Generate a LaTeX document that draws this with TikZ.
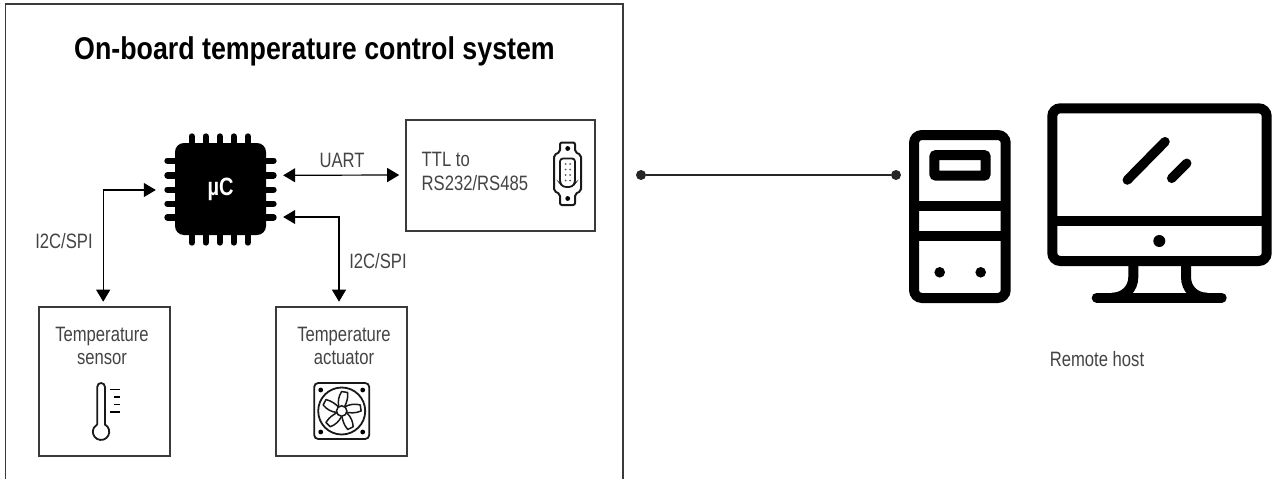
\documentclass[tikz,border=0pt]{standalone}
\usepackage{fontspec}
\usetikzlibrary{arrows.meta,calc}
\setmainfont{Liberation Sans}
\newfontfamily\narrowfont[FakeStretch=0.80]{Liberation Sans}
\newfontfamily\titlefont[FakeStretch=0.85]{Liberation Sans}
\definecolor{boxline}{HTML}{3A3A3A}
\definecolor{labelgray}{HTML}{444444}
\tikzset{
  frame/.style={draw=boxline,line width=1.8pt},
  blockbox/.style={draw=boxline,line width=1.6pt,inner sep=0pt},
  label/.style={text=labelgray,inner sep=0pt,align=center,font=\narrowfont\fontsize{20.8}{23.5}\selectfont},
  biarrow/.style={draw=black,line width=1.2pt,{Triangle[length=12pt,width=14pt]}-{Triangle[length=12pt,width=14pt]}},
  pin/.style={line width=6.4pt,line cap=round,draw=black},
  icon/.style={draw=black,line width=10pt},
  thin icon/.style={draw=black!90,line width=1.8pt},
  dotnode/.style={circle,fill=black!85,inner sep=0pt,minimum size=10pt},
}
\begin{document}
\begin{tikzpicture}[x=1pt,y=-1pt]
\useasboundingbox (0,0) rectangle (1280,479);
\fill[white] (0,0) rectangle (1280,479);
% outer frame
\draw[frame] (5.5,479) -- (5.5,4) -- (623,4) -- (623,479);
\node[inner sep=0pt,text=black] (title) at (314.5,51) {\titlefont\bfseries\fontsize{31.5}{36}\selectfont On-board temperature control system};
% chip
\foreach \p in {191.7,205.7,219.7,233.7,247.7}{
  \draw[pin] (\p,136.5) -- (\p,242.5);
}
\foreach \p in {160.7,175.3,189.7,203.7,217.3}{
  \draw[pin] (167.5,\p) -- (273.5,\p);
}
\fill[black,rounded corners=9pt] (175,143) rectangle (266,235);
\node[minimum width=113pt,minimum height=113pt,inner sep=0pt,text=white] (chip) at (220.5,189.5) {\narrowfont\bfseries\fontsize{25}{28}\selectfont µC};
% blocks
\node[blockbox,minimum width=189pt,minimum height=111pt] (ttl) at (500.5,175.5) {};
\node[blockbox,minimum width=131pt,minimum height=149pt] (sensor) at (104.6,381.5) {};
\node[blockbox,minimum width=131pt,minimum height=149pt] (actuator) at (341.4,381.5) {};
% block labels
\node[label,align=left,anchor=west] (ttltext) at (421.5,171.5) {TTL to\\RS232/RS485};
\node[label] (sensortext) at (102,346) {Temperature\\sensor};
\node[label] (actuatortext) at (344,346) {Temperature\\actuator};
% connectors
\coordinate (chipE1) at ($(chip.east)+(6,-14.2)$);
\coordinate (chipE2) at ($(chip.east)+(6,27.5)$);
\coordinate (ttlW) at ($(ttl.west)+(-6,-0.5)$);
\coordinate (chipW) at ($(chip.west)+(-8,0.5)$);
\coordinate (sensorN) at ($(sensor.north)+(-1.4,-4.5)$);
\coordinate (actuatorN) at ($(actuator.north)+(-2.4,-4.5)$);
\draw[biarrow] (chipE1) -- (ttlW);
\draw[biarrow] (chipW) -| (sensorN);
\draw[biarrow] (chipE2) -| (actuatorN);
\node[label] (uart) at (342,160) {UART};
\node[label] (i2cleft) at (64,241) {I2C/SPI};
\node[label] (i2cright) at (378,261) {I2C/SPI};
% link
\node[dotnode] (linkA) at (641,175) {};
\node[dotnode] (linkB) at (896,175) {};
\draw[line width=1.2pt,draw=black!85] (linkA) -- (linkB);
\node[label] (remote) at (1097,359) {Remote host};
% DB9 connector icon
\begin{scope}[thin icon]
\draw[rounded corners=2pt,line width=2pt] (560,142.5) -- (575,142.5) -- (575,152) -- (581,155) -- (581,191) -- (575,194) -- (575,205) -- (560,205) -- (560,194) -- (554,191) -- (554,155) -- (560,152) -- cycle;
\draw[rounded corners=3pt,line width=1.8pt] (560,158.5) -- (575,158.5) -- (575,183) -- (572,187) -- (563,187) -- (560,183) -- cycle;
\fill[black] (567.7,148.5) circle (2.4pt) (567.7,198.5) circle (2.4pt);
\foreach \yy in {164,169.5,175,180.5}{ \fill[black!65] (565.5,\yy) circle (1pt) (570,\yy) circle (1pt); }
\end{scope}
% thermometer
\draw[thin icon] (97.3,424.5) -- (97.3,386.8) arc[start angle=180,end angle=0,radius=3.8pt] -- (104.9,424.5) arc[start angle=62,end angle=-242,radius=8.2pt];
\draw[black,line width=1.6pt] (110,389.5) -- (120,389.5) (110,412) -- (120,412);
\draw[black,line width=1.4pt] (114,397) -- (120,397) (114,404.5) -- (120,404.5);
% fan
\begin{scope}[shift={(341.7,411)}]
\draw[thin icon,rounded corners=4pt] (-27.5,-28) rectangle (27.5,28);
\draw[thin icon] (0,0) circle (23.5pt);
\draw[thin icon,line width=1.5pt] (0,0) circle (5.2pt);
\fill[black] (-21,-21) circle (2.4pt) (21,-21) circle (2.4pt) (-21,21) circle (2.4pt) (21,21) circle (2.4pt);
\foreach \a in {0,72,144,216,288}{
  \begin{scope}[rotate=\a]
  \draw[thin icon,line width=1.5pt,line join=round] (-3,-4.5) .. controls (-4,-10) and (-3,-15) .. (0,-19.5) -- (6,-18.5) .. controls (6.5,-12) and (4.5,-8) .. (3,-4.5);
  \end{scope}
}
\end{scope}
% tower
\draw[icon,rounded corners=8pt] (914,135) rectangle (1005.7,298);
\draw[icon,rounded corners=2pt] (934.3,155) rectangle (985.7,175.7);
\draw[icon] (914,205.7) -- (1005.7,205.7);
\draw[icon] (914,236) -- (1005.7,236);
\fill[black] (939.7,272.3) circle (5.3pt) (980.7,272.3) circle (5.3pt);
% monitor
\draw[icon,rounded corners=8pt] (1052.3,108.3) rectangle (1266.7,261);
\draw[icon] (1052.3,220.7) -- (1266.7,220.7);
\fill[black] (1159.3,241) circle (6pt);
\draw[icon,line width=9.5pt,line cap=round] (1127.3,180) -- (1165,141.7);
\draw[icon,line width=9.5pt,line cap=round] (1171.7,178.3) -- (1186.7,163.3);
\draw[icon] (1133.3,261) -- (1133.3,277) .. controls (1133.3,289) and (1124,297.7) .. (1112,297.7);
\draw[icon] (1186,261) -- (1186,277) .. controls (1186,289) and (1195,297.7) .. (1207,297.7);
\draw[icon,line cap=round] (1096.7,297.7) -- (1221.7,297.7);
\end{tikzpicture}
\end{document}
